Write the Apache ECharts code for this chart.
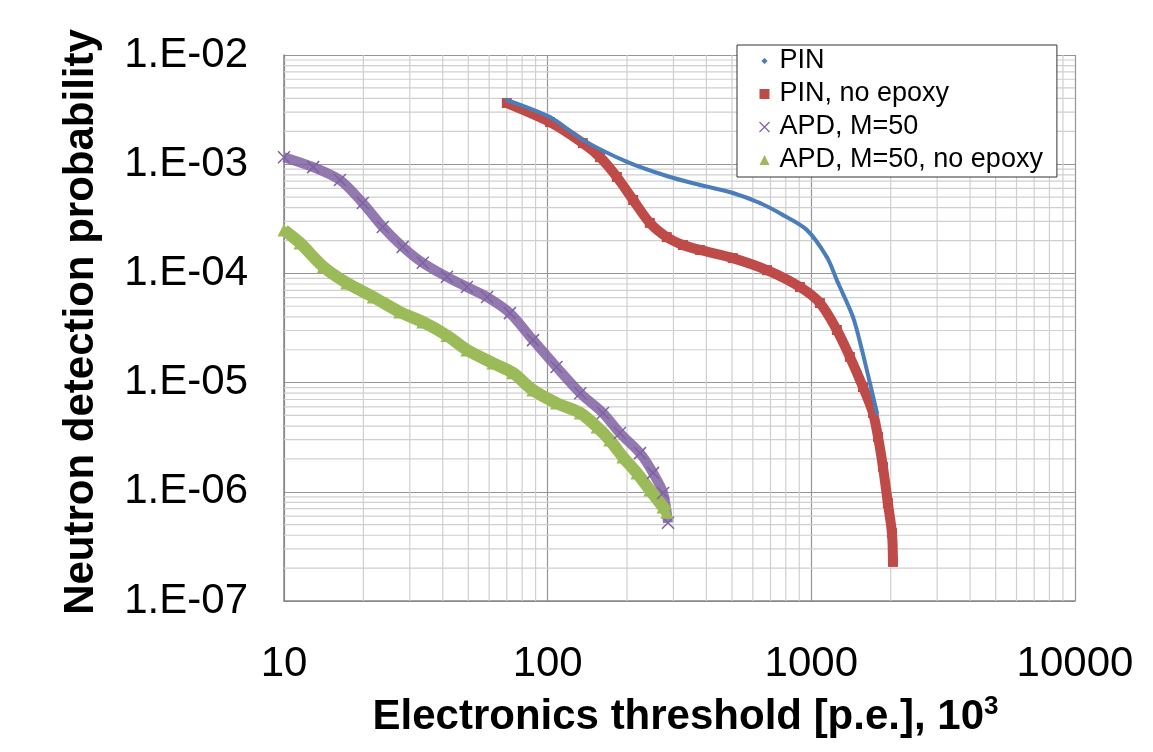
<!DOCTYPE html>
<html>
<head>
<meta charset="utf-8">
<script src="https://cdn.jsdelivr.net/npm/echarts@6/dist/echarts.min.js"></script>
<style>
  html, body { margin: 0; padding: 0; background: #fff; }
  #chart { width: 1153px; height: 752px; }
</style>
</head>
<body>
<div id="chart"></div>
<script>
// Electronics threshold (10^3 p.e.) and detection probability per detector configuration
const pinX = [70, 102, 136, 200, 283, 378, 504, 638, 780, 962, 1145, 1262, 1438, 1556, 1668, 1774];
const pinY = [3.87e-3, 2.70e-3, 1.67e-3, 1.05e-3, 7.8e-4, 6.45e-4, 5.45e-4, 4.41e-4, 3.43e-4, 2.50e-4, 1.41e-4, 8.2e-5, 4.0e-5, 1.99e-5, 9.9e-6, 5.27e-6];

const pinNoEpoxyX = [70, 102, 136, 158, 183, 211, 244, 283, 326, 378, 504, 679, 906, 1078, 1250, 1400, 1570, 1713, 1790, 1869, 1951, 2022, 2040];
const pinNoEpoxyY = [3.63e-3, 2.43e-3, 1.56e-3, 1.16e-3, 7.64e-4, 4.7e-4, 2.9e-4, 2.15e-4, 1.82e-4, 1.64e-4, 1.38e-4, 1.07e-4, 7.5e-5, 5.35e-5, 3.03e-5, 1.72e-5, 9.1e-6, 5.27e-6, 3.18e-6, 1.69e-6, 7.9e-7, 4.2e-7, 2.28e-7];

const apdX = [10, 12.9, 16.3, 19.9, 23.7, 28.2, 33.6, 41.5, 49.4, 58.9, 71.9, 88, 108, 133, 162, 188, 224, 251, 274, 286];
const apdY = [1.16e-3, 9.4e-4, 7.16e-4, 4.41e-4, 2.66e-4, 1.75e-4, 1.25e-4, 9.3e-5, 7.5e-5, 6.08e-5, 4.33e-5, 2.45e-5, 1.39e-5, 8.0e-6, 5.27e-6, 3.45e-6, 2.26e-6, 1.49e-6, 9.75e-7, 5.2e-7];

const apdNoEpoxyX = [10, 11.5, 14.1, 17.3, 21.8, 27.5, 33.6, 41.5, 49.4, 62, 73.8, 87.9, 108, 133, 154, 172, 193, 218, 244, 274, 283];
const apdNoEpoxyY = [2.5e-4, 1.9e-4, 1.15e-4, 8.17e-5, 6.08e-5, 4.43e-5, 3.59e-5, 2.7e-5, 1.99e-5, 1.51e-5, 1.23e-5, 8.55e-6, 6.5e-6, 5.27e-6, 3.92e-6, 2.98e-6, 2.08e-6, 1.49e-6, 1.04e-6, 7.26e-7, 6.5e-7];

const seriesNames = ['PIN', 'PIN, no epoxy', 'APD, M=50', 'APD, M=50, no epoxy'];

// Tick labels by decade exponent
const yTickLabels = { '-2': '1.E-02', '-3': '1.E-03', '-4': '1.E-04', '-5': '1.E-05', '-6': '1.E-06', '-7': '1.E-07' };
const xTickLabels = { '1': '10', '2': '100', '3': '1000', '4': '10000' };

// Axis ranges
const xRange = [10, 10000];
const yRange = [1e-7, 1e-2];

// Intermediate (2..9 x decade) grid values
const xMinorGrid = [];
[10, 100, 1000].forEach(d => { for (let k = 2; k <= 9; k++) xMinorGrid.push(k * d); });
const yMinorGrid = [];
[1e-7, 1e-6, 1e-5, 1e-4, 1e-3].forEach(d => { for (let k = 2; k <= 9; k++) yMinorGrid.push(k * d); });

// Each minor grid line is a two-point segment; '-' breaks the polyline between segments
const minorGridData = [];
xMinorGrid.forEach(v => { minorGridData.push([v, yRange[0]], [v, yRange[1]], ['-', '-']); });
yMinorGrid.forEach(v => { minorGridData.push([xRange[0], v], [xRange[1], v], ['-', '-']); });

const zip = (xs, ys) => xs.map((x, i) => [x, ys[i]]);
const FONT = "'Liberation Sans', Arial, sans-serif";

const colors = { pin: '#4a7ebb', pinNo: '#be4b48', apd: '#7f62a2', apdNo: '#9bbb59' };
const xIcon = 'path://M0,0L10,10M10,0L0,10';

const chart = echarts.init(document.getElementById('chart'), null, { renderer: 'canvas' });

chart.setOption({
  animation: false,
  backgroundColor: '#ffffff',
  textStyle: { fontFamily: FONT },
  grid: { left: 284, right: 78, top: 55, bottom: 151, containLabel: false },
  legend: {
    orient: 'vertical',
    left: 737,
    top: 45,
    padding: [1, 14, 2, 20],
    backgroundColor: '#ffffff',
    borderColor: '#333333',
    borderWidth: 1,
    itemWidth: 10,
    itemHeight: 10,
    itemGap: 3,
    textStyle: { fontFamily: FONT, fontSize: 27, color: '#000', lineHeight: 30, padding: [0, 0, 0, 5] },
    data: [
      { name: seriesNames[0], icon: 'diamond', itemStyle: { color: colors.pin, borderColor: '#ffffff', borderWidth: 2.5 } },
      { name: seriesNames[1], icon: 'rect', itemStyle: { color: colors.pinNo } },
      { name: seriesNames[2], icon: xIcon, itemStyle: { color: 'none', borderColor: colors.apd, borderWidth: 1.2 } },
      { name: seriesNames[3], icon: 'triangle', itemStyle: { color: colors.apdNo } }
    ]
  },
  xAxis: {
    type: 'log',
    logBase: 10,
    min: xRange[0],
    max: xRange[1],
    name: 'Electronics threshold [p.e.], 10{sup|3}',
    nameLocation: 'middle',
    nameGap: 93,
    nameTextStyle: {
      fontFamily: FONT, fontSize: 42, fontWeight: 'bold', color: '#000', lineHeight: 46,
      padding: [0, 0, 0, 12],
      rich: { sup: { fontFamily: FONT, fontSize: 26, fontWeight: 'bold', color: '#000', verticalAlign: 'top', lineHeight: 46, padding: [0, 0, 14, 0] } }
    },
    axisLine: { show: true, lineStyle: { color: '#868686', width: 1.5 } },
    axisTick: { show: false },
    axisLabel: {
      fontFamily: FONT, fontSize: 42, color: '#000', margin: 42,
      formatter: v => xTickLabels[String(Math.round(Math.log10(v)))] || ''
    },
    splitLine: { show: true, lineStyle: { color: '#959595', width: 1.2 } }
  },
  yAxis: {
    type: 'log',
    logBase: 10,
    min: yRange[0],
    max: yRange[1],
    name: 'Neutron detection probability',
    nameLocation: 'middle',
    nameGap: 182,
    nameTextStyle: { fontFamily: FONT, fontSize: 42, fontWeight: 'bold', color: '#000', padding: [0, 0, 0, 12] },
    axisLine: { show: true, lineStyle: { color: '#868686', width: 1.5 } },
    axisTick: { show: false },
    axisLabel: {
      fontFamily: FONT, fontSize: 42, color: '#000', margin: 36,
      formatter: v => yTickLabels[String(Math.round(Math.log10(v)))] || ''
    },
    splitLine: { show: true, lineStyle: { color: '#959595', width: 1.2 } }
  },
  series: [
    {
      // intermediate grid lines at 2..9 within each decade
      type: 'line',
      name: 'minor grid',
      data: minorGridData,
      silent: true,
      connectNulls: false,
      showSymbol: false,
      symbol: 'none',
      z: 1,
      lineStyle: { color: '#cfcfcf', width: 1.2 },
      emphasis: { disabled: true }
    },
    {
      name: seriesNames[1],
      type: 'line',
      z: 3,
      data: zip(pinNoEpoxyX, pinNoEpoxyY),
      smooth: 0.3,
      symbol: 'rect',
      symbolSize: 10,
      lineStyle: { color: colors.pinNo, width: 10 },
      itemStyle: { color: colors.pinNo }
    },
    {
      name: seriesNames[0],
      type: 'line',
      z: 4,
      data: zip(pinX, pinY),
      smooth: 0.3,
      symbol: 'diamond',
      symbolSize: 5,
      lineStyle: { color: colors.pin, width: 4 },
      itemStyle: { color: colors.pin }
    },
    {
      name: seriesNames[2],
      type: 'line',
      z: 3,
      data: zip(apdX, apdY),
      smooth: 0.3,
      symbol: xIcon,
      symbolSize: 12,
      lineStyle: { color: colors.apd, width: 10, opacity: 0.85 },
      itemStyle: { color: 'none', borderColor: colors.apd, borderWidth: 1.5 }
    },
    {
      name: seriesNames[3],
      type: 'line',
      z: 3,
      data: zip(apdNoEpoxyX, apdNoEpoxyY),
      smooth: 0.3,
      symbol: 'triangle',
      symbolSize: 13,
      lineStyle: { color: colors.apdNo, width: 12 },
      itemStyle: { color: colors.apdNo }
    }
  ]
});
</script>
</body>
</html>
